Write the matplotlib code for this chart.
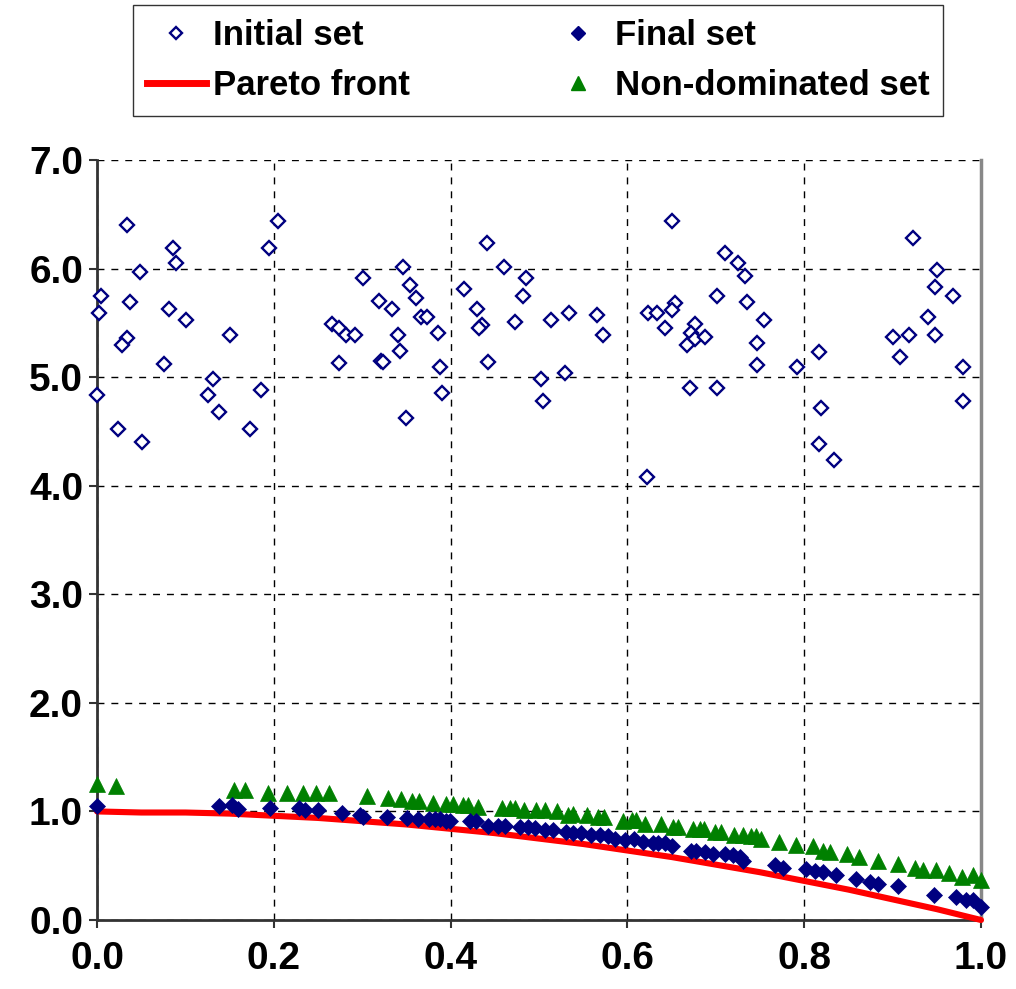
import numpy as np
import matplotlib.pyplot as plt
from matplotlib.lines import Line2D

plt.rcParams['font.family'] = ['Liberation Sans', 'DejaVu Sans']
plt.rcParams['font.weight'] = 'bold'

# initial (random) population
init_x = [0.034, 0.205, 0.086, 0.195, 0.089, 0.049, 0.346, 0.301, 0.354, 0.005,
          0.037, 0.081, 0.002, 0.101, 0.319, 0.334, 0.266, 0.274, 0.282, 0.292,
          0.341, 0.343, 0.150, 0.034, 0.028, 0.076, 0.274, 0.321, 0.324, 0.131,
          0.000, 0.126, 0.185, 0.138, 0.024, 0.173, 0.051, 0.349,
          0.361, 0.367, 0.373, 0.386, 0.388, 0.390,
          0.441, 0.460, 0.485, 0.415, 0.482, 0.430, 0.534, 0.566, 0.473, 0.514,
          0.435, 0.432, 0.572, 0.442, 0.502, 0.529, 0.505,
          0.651, 0.623, 0.634, 0.654, 0.651, 0.643, 0.677, 0.672, 0.676, 0.667,
          0.671, 0.622,
          0.710, 0.725, 0.733, 0.701, 0.735, 0.755, 0.688, 0.747, 0.747, 0.701,
          0.792, 0.817, 0.819, 0.817, 0.834, 0.923, 0.950, 0.948, 0.968, 0.940,
          0.901, 0.918, 0.948, 0.908, 0.980, 0.980]
init_y = [6.40, 6.44, 6.19, 6.19, 6.05, 5.97, 6.01, 5.91, 5.85, 5.75,
          5.69, 5.63, 5.59, 5.53, 5.70, 5.63, 5.49, 5.45, 5.39, 5.39,
          5.39, 5.24, 5.39, 5.36, 5.30, 5.12, 5.13, 5.15, 5.14, 4.98,
          4.84, 4.84, 4.88, 4.68, 4.52, 4.52, 4.40, 4.62,
          5.73, 5.55, 5.55, 5.41, 5.09, 4.85,
          6.24, 6.01, 5.91, 5.81, 5.75, 5.63, 5.59, 5.57, 5.51, 5.53,
          5.48, 5.45, 5.39, 5.14, 4.98, 5.04, 4.78,
          6.44, 5.59, 5.59, 5.68, 5.62, 5.45, 5.49, 5.41, 5.35, 5.30,
          4.90, 4.08,
          6.14, 6.05, 5.93, 5.75, 5.69, 5.53, 5.37, 5.31, 5.11, 4.90,
          5.09, 5.23, 4.72, 4.38, 4.24, 6.28, 5.99, 5.83, 5.75, 5.55,
          5.37, 5.39, 5.39, 5.19, 5.09, 4.78]

# final population
final_x = [0.000, 0.138, 0.153, 0.159, 0.196, 0.228, 0.235, 0.250, 0.277, 0.297,
           0.301, 0.328, 0.351, 0.363, 0.376, 0.382, 0.388, 0.395, 0.399, 0.422,
           0.429, 0.442, 0.454, 0.461, 0.478, 0.488, 0.495, 0.507, 0.516, 0.531,
           0.539, 0.548, 0.559, 0.569, 0.578, 0.586, 0.597, 0.608, 0.618, 0.629,
           0.635, 0.642, 0.650, 0.672, 0.678, 0.688, 0.697, 0.710, 0.719, 0.727,
           0.731, 0.767, 0.776, 0.802, 0.812, 0.821, 0.836, 0.859, 0.874, 0.883,
           0.906, 0.947, 0.972, 0.983, 0.991, 1.000]
final_y = [1.05, 1.05, 1.06, 1.02, 1.03, 1.03, 1.01, 1.01, 0.99, 0.97,
           0.95, 0.95, 0.94, 0.93, 0.93, 0.93, 0.93, 0.91, 0.91, 0.91,
           0.91, 0.87, 0.87, 0.87, 0.86, 0.86, 0.85, 0.83, 0.83, 0.81,
           0.80, 0.80, 0.78, 0.78, 0.77, 0.75, 0.74, 0.75, 0.72, 0.71,
           0.71, 0.71, 0.68, 0.64, 0.64, 0.63, 0.61, 0.61, 0.60, 0.58,
           0.54, 0.51, 0.48, 0.47, 0.45, 0.44, 0.41, 0.38, 0.35, 0.33,
           0.31, 0.23, 0.21, 0.18, 0.18, 0.12]

# non-dominated set
nd_x = [0.000, 0.021, 0.155, 0.167, 0.194, 0.215, 0.233, 0.248, 0.263, 0.305,
        0.329, 0.344, 0.356, 0.364, 0.380, 0.395, 0.403, 0.414, 0.420, 0.431,
        0.458, 0.467, 0.473, 0.483, 0.497, 0.507, 0.520, 0.533, 0.539, 0.554,
        0.567, 0.574, 0.595, 0.605, 0.610, 0.620, 0.638, 0.652, 0.657, 0.674,
        0.682, 0.687, 0.699, 0.706, 0.721, 0.731, 0.740, 0.746, 0.751, 0.772,
        0.791, 0.810, 0.821, 0.829, 0.848, 0.862, 0.883, 0.906, 0.925, 0.934,
        0.949, 0.964, 0.978, 0.991, 1.000]
nd_y = [1.25, 1.23, 1.20, 1.20, 1.17, 1.17, 1.17, 1.17, 1.17, 1.14,
        1.12, 1.11, 1.10, 1.10, 1.08, 1.07, 1.07, 1.06, 1.06, 1.04,
        1.03, 1.03, 1.03, 1.01, 1.01, 1.01, 1.00, 0.97, 0.98, 0.97,
        0.95, 0.95, 0.91, 0.92, 0.92, 0.88, 0.88, 0.86, 0.86, 0.84,
        0.84, 0.84, 0.81, 0.81, 0.78, 0.78, 0.77, 0.77, 0.75, 0.72,
        0.69, 0.68, 0.64, 0.63, 0.61, 0.58, 0.54, 0.52, 0.48, 0.46,
        0.46, 0.43, 0.40, 0.41, 0.37]

# true Pareto front
front_x = [0.0, 0.05, 0.1, 0.15, 0.2, 0.25, 0.3, 0.35, 0.4, 0.45, 0.5,
           0.55, 0.6, 0.65, 0.7, 0.75, 0.8, 0.85, 0.9, 0.95, 1.0]
front_y = [1.0, 0.99, 0.99, 0.98, 0.96, 0.94, 0.91, 0.88, 0.84, 0.80, 0.75,
           0.70, 0.64, 0.58, 0.51, 0.44, 0.36, 0.28, 0.19, 0.10, 0.0]

navy = '#000080'
green = '#008000'

fig = plt.figure(figsize=(10.16, 9.89), dpi=100)
ax = fig.add_axes([97/1016, 1-920/989, 884/1016, 760/989])

ax.plot(front_x, front_y, color='red', lw=4.4, solid_capstyle='round', zorder=3, clip_on=False)
ax.plot(init_x, init_y, 'D', ms=7.4, mfc='white', mec=navy, mew=1.7, zorder=4, clip_on=False)
ax.plot(final_x, final_y, 'D', ms=8.6, mfc=navy, mec=navy, mew=0.5, zorder=5, clip_on=False)
ax.plot(nd_x, nd_y, '^', ms=11, mfc=green, mec=green, mew=0.5, zorder=4, clip_on=False)

ax.set_xlim(0, 1)
ax.set_ylim(0, 7)
ax.set_xticks(np.arange(0, 1.01, 0.2))
ax.set_yticks(np.arange(0, 7.01, 1.0))
ax.set_xticklabels(['%.1f' % v for v in np.arange(0, 1.01, 0.2)])
ax.set_yticklabels(['%.1f' % v for v in np.arange(0, 7.01, 1.0)])
ax.tick_params(labelsize=28, width=1.5, length=6, direction='out', colors='#333333',
               labelcolor='black')
ax.tick_params(axis='x', pad=9)
ax.tick_params(axis='y', pad=4)
for lab in ax.get_xticklabels() + ax.get_yticklabels():
    lab.set_fontweight('bold')

ax.grid(True, color='black', ls=(0, (5, 5)), lw=1.0)
ax.set_axisbelow(True)
ax.spines['top'].set_visible(False)
ax.spines['left'].set_color('#333333')
ax.spines['left'].set_linewidth(2)
ax.spines['bottom'].set_color('#333333')
ax.spines['bottom'].set_linewidth(2)
ax.spines['right'].set_color('#888888')
ax.spines['right'].set_linewidth(2.5)

handles = [
    Line2D([], [], ls='none', marker='D', ms=6.5, mfc='white', mec=navy, mew=1.7),
    Line2D([], [], color='red', lw=5),
    Line2D([], [], ls='none', marker='D', ms=7.5, mfc=navy, mec=navy),
    Line2D([], [], ls='none', marker='^', ms=10, mfc=green, mec=green),
]
labels = ['Initial set', 'Pareto front', 'Final set', 'Non-dominated set']
leg = fig.legend(handles, labels, ncol=2, loc='upper left',
                 bbox_to_anchor=(133/1016, 1-5/989), borderaxespad=0,
                 frameon=True, fancybox=False,
                 edgecolor='black', prop={'size': 25, 'weight': 'bold'},
                 handlelength=1.7, handletextpad=0.2, columnspacing=4.0,
                 labelspacing=0.5, borderpad=0.4)
leg.get_frame().set_linewidth(1.0)

fig.savefig('out.png', dpi=100)
